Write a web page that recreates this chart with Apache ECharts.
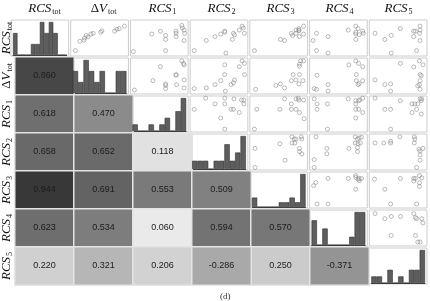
<!DOCTYPE html>
<html>
<head>
<meta charset="utf-8">
<script src="https://cdn.jsdelivr.net/npm/echarts@6/dist/echarts.min.js"></script>
<style>
  html, body { margin: 0; padding: 0; background: #fff; }
  #chart { width: 430px; height: 301px; }
</style>
</head>
<body>
<div id="chart"></div>
<script>
// variables of the matrix (row/column order)
const VAR_KEYS = ['RCS_tot', 'dV_tot', 'RCS_1', 'RCS_2', 'RCS_3', 'RCS_4', 'RCS_5'];
const VAR_MAIN = ['RCS', 'ΔV', 'RCS', 'RCS', 'RCS', 'RCS', 'RCS'];
const VAR_SUB = ['tot', 'tot', '1', '2', '3', '4', '5'];

// lower triangle: correlation coefficients, row i holds columns 0..i-1
const CORR_ROWS = [
  [],
  [0.860],
  [0.618, 0.470],
  [0.658, 0.652, 0.118],
  [0.944, 0.691, 0.553, 0.509],
  [0.623, 0.534, 0.060, 0.594, 0.570],
  [0.220, 0.321, 0.206, -0.286, 0.250, -0.371],
];

// diagonal: histogram counts per bin
const HIST_COUNTS = [
  [2, 0, 0, 0, 1, 1, 3, 2, 3, 2, 0, 0],
  [2, 1, 3, 2, 1, 2, 0, 0, 2, 2],
  [1, 0, 0, 1, 0, 1, 2, 0, 3, 5],
  [1, 1, 1, 0, 1, 1, 3, 1, 2, 4],
  [2, 0, 0, 0, 0, 1, 1, 2, 1, 7],
  [3, 0, 2, 0, 0, 0, 0, 1, 4, 4],
  [1, 1, 0, 2, 0, 1, 0, 2, 2, 5],
];

// upper triangle: scatter points (x, y scaled to the panel, 0..1), one list per row
const SCATTER_ROW0 = [
  [[0.08,0.15],[0.16,0.41],[0.23,0.44],[0.24,0.50],[0.27,0.57],[0.30,0.53],[0.35,0.61],[0.39,0.63],[0.52,0.66],[0.54,0.70],[0.76,0.69],[0.80,0.74],[0.84,0.76],[0.93,0.83]],
  [[0.05,0.12],[0.37,0.61],[0.52,0.69],[0.61,0.57],[0.61,0.46],[0.61,0.15],[0.79,0.69],[0.79,0.63],[0.79,0.54],[0.89,0.85],[0.90,0.78],[0.93,0.72],[0.94,0.63],[0.93,0.43]],
  [[0.07,0.15],[0.28,0.43],[0.43,0.54],[0.53,0.61],[0.60,0.69],[0.60,0.66],[0.62,0.08],[0.73,0.46],[0.75,0.63],[0.77,0.59],[0.85,0.72],[0.90,0.83],[0.94,0.63],[0.92,0.78]],
  [[0.08,0.15],[0.53,0.46],[0.60,0.43],[0.72,0.63],[0.74,0.57],[0.80,0.63],[0.80,0.72],[0.85,0.72],[0.85,0.76],[0.85,0.70],[0.86,0.54],[0.93,0.83],[0.93,0.61]],
  [[0.06,0.43],[0.12,0.63],[0.12,0.15],[0.32,0.54],[0.32,0.08],[0.67,0.72],[0.80,0.83],[0.84,0.76],[0.80,0.66],[0.80,0.61],[0.86,0.59],[0.92,0.69],[0.93,0.63],[0.80,0.46]],
  [[0.10,0.63],[0.27,0.46],[0.38,0.57],[0.54,0.76],[0.38,0.08],[0.77,0.69],[0.80,0.69],[0.77,0.54],[0.88,0.83],[0.88,0.72],[0.87,0.63],[0.88,0.43],[0.82,0.15]],
];
const SCATTER_ROW1 = [
  [[0.07,0.11],[0.39,0.37],[0.52,0.76],[0.61,0.28],[0.61,0.24],[0.61,0.15],[0.79,0.54],[0.79,0.52],[0.80,0.26],[0.89,0.92],[0.92,0.85],[0.93,0.81],[0.93,0.39],[0.93,0.17]],
  [[0.07,0.15],[0.28,0.17],[0.43,0.26],[0.53,0.37],[0.60,0.54],[0.60,0.81],[0.61,0.08],[0.71,0.26],[0.75,0.31],[0.77,0.39],[0.85,0.76],[0.90,0.92],[0.94,0.85],[0.94,0.54]],
  [[0.10,0.13],[0.45,0.24],[0.53,0.28],[0.60,0.17],[0.72,0.37],[0.75,0.54],[0.80,0.39],[0.85,0.28],[0.86,0.54],[0.86,0.77],[0.86,0.83],[0.88,0.92],[0.92,0.37],[0.93,0.92]],
  [[0.08,0.15],[0.12,0.13],[0.13,0.52],[0.32,0.26],[0.32,0.08],[0.68,0.81],[0.80,0.92],[0.85,0.85],[0.92,0.76],[0.81,0.54],[0.81,0.37],[0.92,0.37],[0.84,0.26],[0.86,0.29]],
  [[0.10,0.39],[0.27,0.26],[0.37,0.28],[0.37,0.08],[0.54,0.85],[0.77,0.75],[0.87,0.92],[0.93,0.81],[0.88,0.54],[0.90,0.51],[0.88,0.37],[0.87,0.26],[0.84,0.23],[0.88,0.13]],
];
const SCATTER_ROW2 = [
  [[0.07,0.63],[0.27,0.94],[0.43,0.78],[0.53,0.39],[0.60,0.94],[0.60,0.78],[0.60,0.08],[0.71,0.63],[0.75,0.63],[0.76,0.92],[0.85,0.54],[0.89,0.89],[0.93,0.89],[0.93,0.78]],
  [[0.08,0.08],[0.12,0.63],[0.52,0.63],[0.60,0.92],[0.72,0.78],[0.72,0.63],[0.80,0.92],[0.84,0.94],[0.85,0.89],[0.93,0.89],[0.86,0.54],[0.94,0.37],[0.80,0.63]],
  [[0.08,0.92],[0.13,0.78],[0.13,0.63],[0.31,0.78],[0.31,0.08],[0.67,0.92],[0.80,0.87],[0.85,0.87],[0.87,0.89],[0.92,0.94],[0.80,0.78],[0.80,0.63],[0.85,0.63],[0.92,0.54],[0.80,0.39]],
  [[0.10,0.94],[0.27,0.63],[0.37,0.63],[0.54,0.87],[0.37,0.08],[0.74,0.78],[0.79,0.78],[0.84,0.78],[0.88,0.92],[0.91,0.92],[0.90,0.87],[0.82,0.63],[0.74,0.54],[0.90,0.50]],
];
const SCATTER_ROW3 = [
  [[0.09,0.07],[0.09,0.60],[0.61,0.27],[0.52,0.73],[0.73,0.75],[0.78,0.75],[0.73,0.92],[0.77,0.86],[0.80,0.86],[0.89,0.92],[0.90,0.86],[0.86,0.60],[0.86,0.51],[0.90,0.45]],
  [[0.08,0.29],[0.11,0.92],[0.30,0.60],[0.30,0.45],[0.68,0.60],[0.79,0.92],[0.83,0.86],[0.86,0.89],[0.90,0.91],[0.79,0.75],[0.84,0.73],[0.88,0.75],[0.83,0.62],[0.83,0.51],[0.08,0.07]],
  [[0.10,0.75],[0.25,0.75],[0.37,0.75],[0.37,0.80],[0.53,0.92],[0.78,0.92],[0.79,0.86],[0.78,0.75],[0.86,0.58],[0.93,0.60],[0.88,0.53],[0.88,0.42],[0.88,0.27],[0.82,0.07]],
];
const SCATTER_ROW4 = [
  [[0.07,0.62],[0.11,0.71],[0.13,0.11],[0.32,0.82],[0.32,0.11],[0.67,0.82],[0.80,0.90],[0.80,0.85],[0.84,0.80],[0.86,0.82],[0.90,0.82],[0.80,0.52],[0.86,0.76]],
  [[0.09,0.80],[0.27,0.52],[0.37,0.11],[0.54,0.82],[0.77,0.82],[0.80,0.82],[0.87,0.90],[0.91,0.84],[0.87,0.70],[0.87,0.60],[0.82,0.11],[0.77,0.75]],
];
const SCATTER_ROW5 = [
  [[0.10,0.90],[0.27,0.76],[0.38,0.82],[0.54,0.82],[0.77,0.90],[0.80,0.79],[0.82,0.76],[0.91,0.76],[0.93,0.64],[0.38,0.29],[0.80,0.29],[0.84,0.11],[0.88,0.11]],
];
const SCATTER_ROWS = [SCATTER_ROW0, SCATTER_ROW1, SCATTER_ROW2, SCATTER_ROW3, SCATTER_ROW4, SCATTER_ROW5];

// layout of the matrix
const X0 = 10, Y0 = 19, N = VAR_KEYS.length;
const W = (428 - X0) / N, H = 38;
const SERIF = 'Liberation Serif';

const rich = {
  m: { fontFamily: SERIF, fontStyle: 'italic', fontSize: 13, lineHeight: 15, color: '#111' },
  d: { fontFamily: SERIF, fontSize: 13, lineHeight: 15, color: '#111' },
  s: { fontFamily: SERIF, fontSize: 8, color: '#111', verticalAlign: 'bottom', padding: [0, 0, 0, 1] },
};
const varLabel = (i) => {
  const main = VAR_MAIN[i];
  const head = main[0] === 'Δ' ? `{d|Δ}{m|${main.slice(1)}}` : `{m|${main}}`;
  return `${head}{s|${VAR_SUB[i]}}`;
};

const grid = [], xAxis = [], yAxis = [], series = [];
function addGrid(g, xa, ya) {
  grid.push(g);
  const gi = grid.length - 1;
  xAxis.push(Object.assign({ gridIndex: gi }, xa));
  yAxis.push(Object.assign({ gridIndex: gi }, ya));
  return gi;
}

// full-matrix category grid: heatmap of the lower triangle + variable labels
addGrid(
  { left: X0, top: Y0, width: W * N, height: H * N },
  {
    type: 'category', data: VAR_KEYS, position: 'top',
    axisLine: { show: false }, axisTick: { show: false },
    axisLabel: { interval: 0, margin: 3, formatter: (v, i) => varLabel(i), rich },
  },
  {
    type: 'category', data: VAR_KEYS, inverse: true,
    axisLine: { show: false }, axisTick: { show: false },
    axisLabel: { interval: 0, margin: 1, rotate: 90, formatter: (v, i) => varLabel(i), rich },
  }
);

const posCells = [], negCells = [];
CORR_ROWS.forEach((row, i) => row.forEach((r, j) => (r >= 0 ? posCells : negCells).push([j, i, r])));
const heatStyle = {
  type: 'heatmap', xAxisIndex: 0, yAxisIndex: 0,
  itemStyle: { borderColor: '#e4e4e4', borderWidth: 1.5 },
  label: {
    show: true, color: '#1c1c1c', fontSize: 9, fontFamily: 'Liberation Sans',
    formatter: (p) => p.value[2].toFixed(3),
  },
  emphasis: { disabled: true },
};
series.push(Object.assign({ data: posCells }, heatStyle));
series.push(Object.assign({ data: negCells }, heatStyle));

const frame = (i, j) => ({
  left: X0 + j * W + 1, top: Y0 + i * H + 1, width: W - 2, height: H - 2,
  show: true, backgroundColor: '#fff', borderColor: '#cdcdcd', borderWidth: 1,
});
const unitAxis = { type: 'value', min: 0, max: 1, show: false };

for (let i = 0; i < N; i++) {
  // diagonal histogram
  addGrid(frame(i, i), unitAxis, unitAxis);
  const counts = HIST_COUNTS[i];
  const hi = addGrid(
    { left: X0 + i * W + 3, top: Y0 + i * H + 3, width: W - 6, height: H - 5 },
    {
      type: 'category', data: counts.map((c, k) => k),
      axisLine: { lineStyle: { color: '#444', width: 1 } }, axisTick: { show: false }, axisLabel: { show: false },
    },
    { type: 'value', min: 0, max: Math.max(...counts), show: false }
  );
  series.push({
    type: 'bar', xAxisIndex: hi, yAxisIndex: hi, data: counts, barCategoryGap: '0%',
    itemStyle: { color: '#5e5e5e', borderColor: '#303030', borderWidth: 0.6 },
  });

  // upper triangle scatter panels
  for (let j = i + 1; j < N; j++) {
    const si = addGrid(frame(i, j), unitAxis, unitAxis);
    series.push({
      type: 'scatter', xAxisIndex: si, yAxisIndex: si, data: SCATTER_ROWS[i][j - i - 1],
      symbol: 'circle', symbolSize: 4,
      itemStyle: { color: 'rgba(0,0,0,0)', borderColor: '#858585', borderWidth: 0.7 },
    });
  }
}

const chart = echarts.init(document.getElementById('chart'));
chart.setOption({
  animation: false,
  title: {
    text: '(d)', left: 215, top: 287,
    textStyle: { fontFamily: SERIF, fontSize: 9, fontWeight: 'normal', color: '#333' },
  },
  visualMap: [
    { show: false, seriesIndex: 0, dimension: 2, min: 0, max: 1,
      inRange: { color: ['#f4f4f4', '#cbcbcb', '#828282', '#5a5a5a', '#2e2e2e'] } },
    { show: false, seriesIndex: 1, dimension: 2, min: -0.45, max: 0,
      inRange: { color: ['#808080', '#f0f0f0'] } },
  ],
  grid, xAxis, yAxis, series,
});
</script>
</body>
</html>
